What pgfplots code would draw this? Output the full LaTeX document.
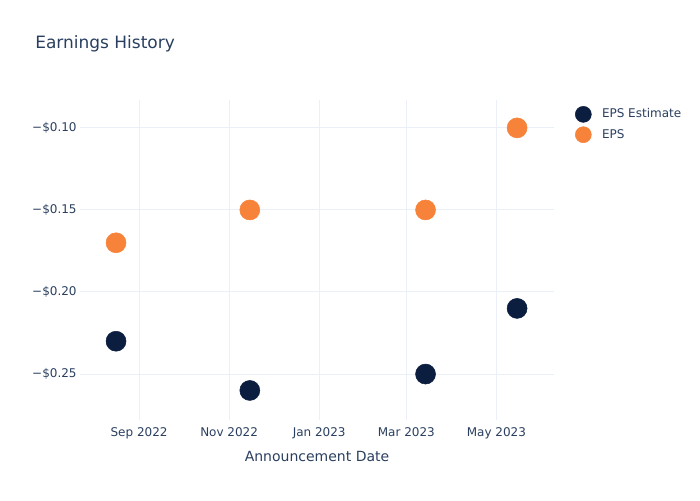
\documentclass[border=0pt]{standalone}
\usepackage{pgfplots}
\pgfplotsset{compat=1.18}
\usepackage{fontspec}
\setmainfont{DejaVu Sans}
\definecolor{txt}{HTML}{2A3F5F}
\definecolor{gridc}{HTML}{EBF0F8}
\definecolor{navy}{HTML}{0C1E3F}
\definecolor{orng}{HTML}{F7823A}
\begin{document}
\begin{tikzpicture}
\path[use as bounding box] (0pt,0pt) rectangle (525pt,375pt);
\node[anchor=west, inner sep=0pt, font=\fontsize{12.75}{15}\selectfont, text=txt] at (26.25pt,342pt) {Earnings History};
\node[font=\fontsize{10.5}{12}\selectfont, text=txt] at (237.75pt,33pt) {Announcement Date};
\begin{axis}[
  at={(60pt,60pt)}, anchor=south west,
  scale only axis, width=355.5pt, height=240pt,
  xmin=-40, xmax=281, ymin=-0.278, ymax=-0.083,
  xtick={0,61,122,181,242},
  xticklabels={Sep 2022,Nov 2022,Jan 2023,Mar 2023,May 2023},
  ytick={-0.25,-0.2,-0.15,-0.1},
  yticklabels={−\$0.25,−\$0.20,−\$0.15,−\$0.10},
  xmajorgrids, ymajorgrids,
  grid style={gridc, line width=0.75pt},
  axis line style={draw=none},
  major tick length=0pt,
  tick label style={font=\fontsize{9}{11}\selectfont, text=txt},
  xticklabel style={yshift=-2pt},
  yticklabel style={xshift=1pt},
  clip=false,
  legend style={at={(axis description cs:1.036,0.99)}, anchor=north west, draw=none, fill=none,
    font=\fontsize{9}{11}\selectfont, text=txt, row sep=3pt},
  legend cell align=left,
  legend image code/.code={\path[draw=none,fill=none] (-6pt,0pt) rectangle (12pt,0.1pt); \draw[#1, mark size=6pt] plot coordinates {(0pt,0pt)};},
]
\addplot[only marks, mark=*, mark size=7.5pt, color=navy] coordinates {(-15.6,-0.23) (75,-0.26) (194,-0.25) (256,-0.21)};
\addlegendentry{EPS Estimate}
\addplot[only marks, mark=*, mark size=7.5pt, color=orng] coordinates {(-15.6,-0.17) (75,-0.15) (194,-0.15) (256,-0.10)};
\addlegendentry{EPS}
\end{axis}
\end{tikzpicture}
\end{document}
